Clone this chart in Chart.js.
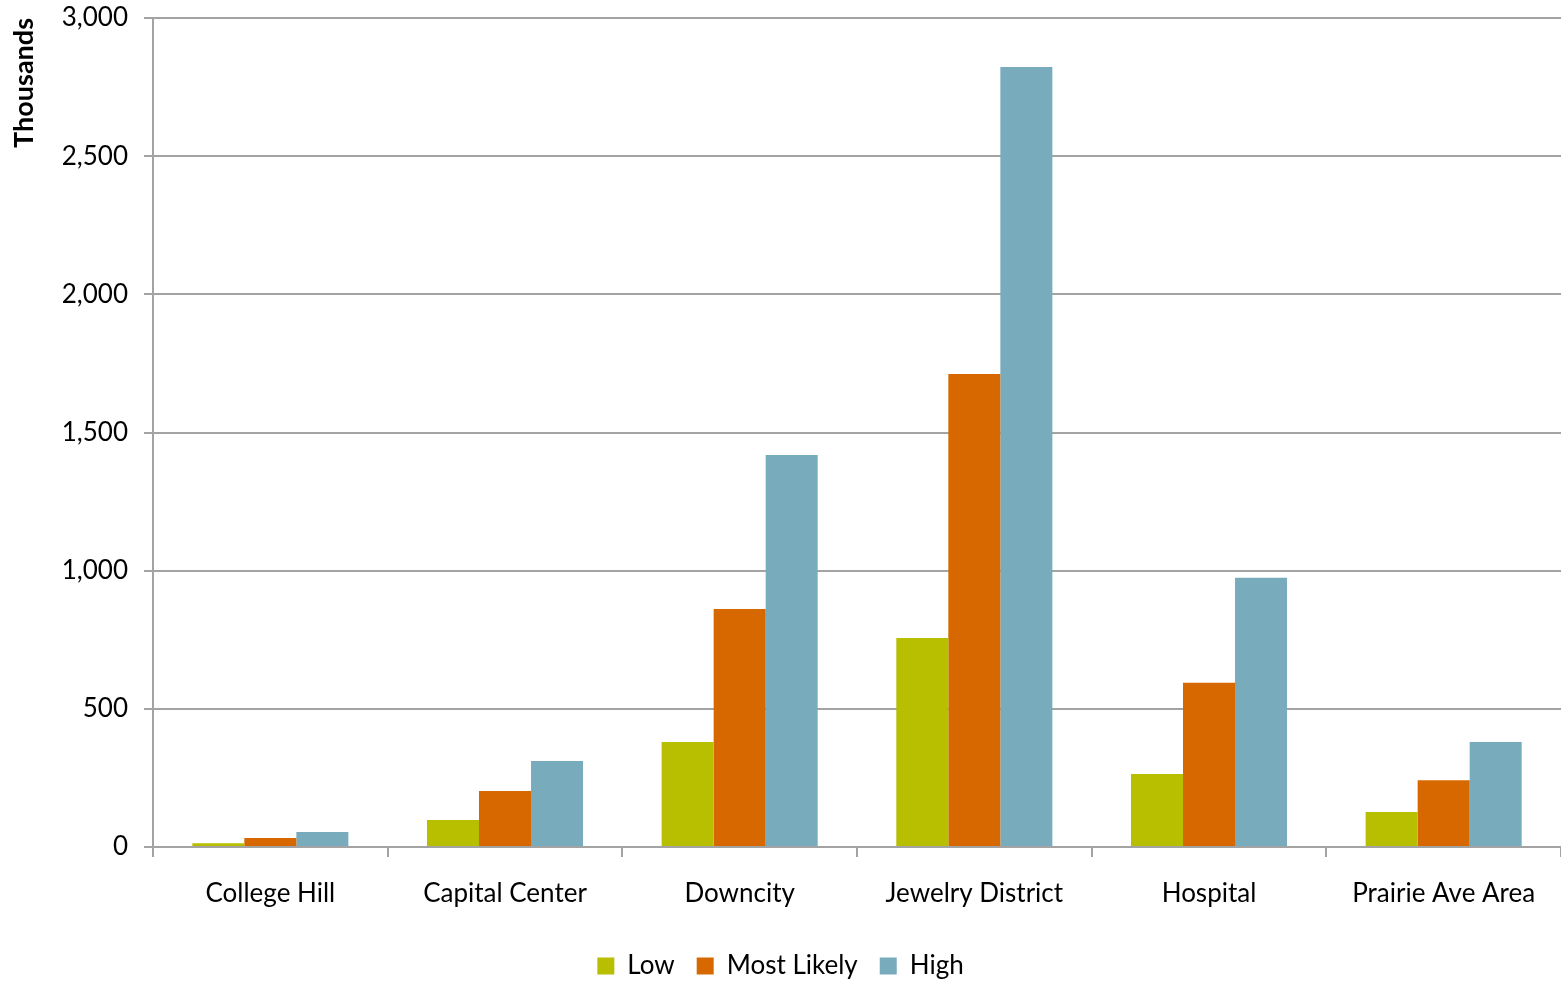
<!DOCTYPE html>
<html>
<head>
<meta charset="utf-8">
<script src="https://cdn.jsdelivr.net/npm/chart.js@4.4.0/dist/chart.umd.min.js"></script>
<style>
  html, body { margin: 0; padding: 0; background: #fff; }
  #wrap { width: 1561px; height: 982px; position: relative; }
</style>
</head>
<body>
<div id="wrap"><canvas id="chart"></canvas></div>
<script>
// ── data (thousands) ──
const categories = ['College Hill', 'Capital Center', 'Downcity', 'Jewelry District', 'Hospital', 'Prairie Ave Area'];
const lowValues = [14, 98, 380, 756, 264, 127];
const mostLikelyValues = [33, 203, 861, 1712, 594, 242];
const highValues = [54, 311, 1419, 2823, 974, 380];
const yTicks = [0, 500, 1000, 1500, 2000, 2500, 3000];

const FONT = "Lato, 'Open Sans', sans-serif";
const GRID = '#a3a3a3';

const ctx = document.getElementById('chart').getContext('2d');

new Chart(ctx, {
    type: 'bar',
    data: {
        labels: categories,
        datasets: [
            { label: 'Low', data: lowValues, backgroundColor: '#b7bf00' },
            { label: 'Most Likely', data: mostLikelyValues, backgroundColor: '#d76800' },
            { label: 'High', data: highValues, backgroundColor: '#78acbd' }
        ]
    },
    options: {
        responsive: true,
        maintainAspectRatio: false,
        animation: false,
        layout: { padding: { top: 18, right: 0, left: 0, bottom: 0 } },
        datasets: {
            bar: { barPercentage: 1.0, categoryPercentage: 0.665 }
        },
        plugins: {
            tooltip: { enabled: false },
            legend: {
                position: 'bottom',
                maxHeight: 51,
                labels: {
                    color: '#000',
                    font: { family: FONT, size: 26 },
                    boxWidth: 17,
                    boxHeight: 17,
                    padding: 22
                }
            }
        },
        scales: {
            x: {
                grid: {
                    drawOnChartArea: false,
                    drawTicks: true,
                    tickLength: 10,
                    color: GRID,
                    lineWidth: 2
                },
                border: { color: GRID, width: 2 },
                ticks: {
                    color: '#000',
                    font: { family: FONT, size: 26 },
                    padding: 21,
                    maxRotation: 0
                },
                afterFit: function (scale) {
                    scale.height = 84;
                    scale.paddingLeft = 0;
                    scale.paddingRight = 0;
                }
            },
            y: {
                min: 0,
                max: 3000,
                afterBuildTicks: function (scale) {
                    scale.ticks = yTicks.map(function (v) { return { value: v }; });
                },
                grid: {
                    color: GRID,
                    lineWidth: 2,
                    tickLength: 9
                },
                border: { color: GRID, width: 2 },
                ticks: {
                    color: '#000',
                    font: { family: FONT, size: 26 },
                    padding: 16,
                    callback: function (v) { return v.toLocaleString('en-US'); }
                },
                title: {
                    display: true,
                    text: 'Thousands',
                    align: 'end',
                    color: '#000',
                    font: { family: FONT, size: 27, weight: 'bold' },
                    padding: { top: 8, bottom: 0 }
                },
                afterFit: function (scale) {
                    scale.width = 153;
                    scale.paddingTop = 0;
                    scale.paddingBottom = 0;
                }
            }
        }
    }
});
</script>
</body>
</html>
